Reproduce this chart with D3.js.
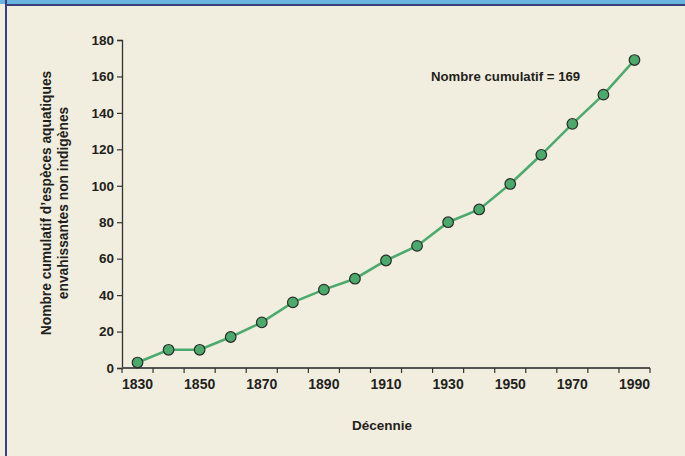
<!DOCTYPE html>
<html>
<head>
<meta charset="utf-8">
<script src="https://cdn.jsdelivr.net/npm/d3@7"></script>
<style>
  html, body { margin: 0; padding: 0; background: #f2eedf; }
  svg { display: block; }
  text { font-family: "Liberation Sans", Arial, sans-serif; font-weight: bold; fill: #231f20; }
</style>
</head>
<body>
<svg id="chart" width="685" height="456"></svg>
<script>
// Cumulative number of invasive non-native aquatic species, by decade
const decades = [1830, 1840, 1850, 1860, 1870, 1880, 1890, 1900, 1910, 1920, 1930, 1940, 1950, 1960, 1970, 1980, 1990];
const cumulative = [3, 10, 10, 17, 25, 36, 43, 49, 59, 67, 80, 87, 101, 117, 134, 150, 169];
const labelledDecades = [1830, 1850, 1870, 1890, 1910, 1930, 1950, 1970, 1990];
const yTicks = [0, 20, 40, 60, 80, 100, 120, 140, 160, 180];
const annotation = "Nombre cumulatif = 169";
const yTitle = ["Nombre cumulatif d\u2019espèces aquatiques", "envahissantes non indigènes"];
const xTitle = "Décennie";

(function () {
  const svg = d3.select("#chart");
  const W = 685, H = 456;

  // panel background and frame
  svg.append("rect").attr("width", W).attr("height", H).attr("fill", "#f2eedf");
  svg.append("rect").attr("x", 0).attr("y", 0).attr("width", W).attr("height", 4).attr("fill", "#6ab4de");
  svg.append("rect").attr("x", 5).attr("y", 4).attr("width", W - 5).attr("height", 2).attr("fill", "#3a4180");
  svg.append("rect").attr("x", 5).attr("y", 0).attr("width", 2).attr("height", H).attr("fill", "#3a4180");

  const m = { left: 122, right: 650, top: 40, bottom: 368 };

  const x = d3.scaleBand().domain(decades).range([m.left, m.right]);
  const y = d3.scaleLinear().domain([0, 180]).range([m.bottom, m.top]);

  // y axis
  const yAxis = svg.append("g")
    .attr("transform", `translate(${m.left},0)`)
    .call(d3.axisLeft(y).tickValues(yTicks).tickSize(5).tickPadding(3).tickFormat(d3.format("d")));
  yAxis.select(".domain").attr("stroke", "#333").attr("stroke-width", 1.3);
  yAxis.selectAll(".tick line").attr("stroke", "#333").attr("stroke-width", 1.2);
  yAxis.selectAll(".tick text").style("font-size", "13.5px").attr("fill", "#231f20")
    .style("font-family", "'Liberation Sans', Arial, sans-serif").style("font-weight", "bold");

  // x axis: ticks at band boundaries, labels every other decade
  const xg = svg.append("g").attr("transform", `translate(0,${m.bottom})`);
  xg.append("line").attr("x1", m.left).attr("x2", m.right).attr("y1", 0).attr("y2", 0)
    .attr("stroke", "#555").attr("stroke-width", 2);
  const boundaries = decades.map(d => x(d)).concat([x(decades[decades.length - 1]) + x.bandwidth()]);
  xg.selectAll("line.tk").data(boundaries).join("line").attr("class", "tk")
    .attr("x1", d => d).attr("x2", d => d).attr("y1", 0).attr("y2", 5)
    .attr("stroke", "#333").attr("stroke-width", 1.2);
  xg.selectAll("text").data(labelledDecades).join("text")
    .attr("x", d => x(d) + x.bandwidth() / 2).attr("y", 21)
    .attr("text-anchor", "middle").style("font-size", "14px").text(d => d);

  // series line and markers
  const line = d3.line()
    .x((d, i) => x(decades[i]) + x.bandwidth() / 2)
    .y(d => y(d));
  svg.append("path").datum(cumulative).attr("d", line)
    .attr("fill", "none").attr("stroke", "#4daa6e").attr("stroke-width", 2.6);
  svg.selectAll("circle.pt").data(cumulative).join("circle").attr("class", "pt")
    .attr("cx", (d, i) => x(decades[i]) + x.bandwidth() / 2)
    .attr("cy", d => y(d)).attr("r", 5.3)
    .attr("fill", "#4aa96b").attr("stroke", "#2a2a2a").attr("stroke-width", 1.2);

  // annotation
  svg.append("text").attr("x", 431).attr("y", 81).style("font-size", "13.2px").text(annotation);

  // axis titles
  svg.append("text").attr("x", 382).attr("y", 430).attr("text-anchor", "middle")
    .style("font-size", "13.5px").text(xTitle);
  const yt = svg.append("text").attr("transform", "translate(51,203) rotate(-90)")
    .attr("text-anchor", "middle").style("font-size", "13.8px");
  yt.selectAll("tspan").data(yTitle).join("tspan")
    .attr("x", 0).attr("dy", (d, i) => i === 0 ? 0 : 16.5).text(d => d);
})();
</script>
</body>
</html>
